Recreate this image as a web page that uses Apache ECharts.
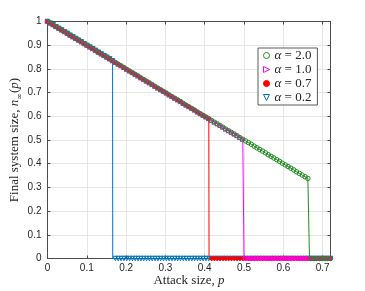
<!DOCTYPE html>
<html>
<head>
<meta charset="utf-8">
<script src="https://cdn.jsdelivr.net/npm/echarts@6/dist/echarts.min.js"></script>
<style>
html,body{margin:0;padding:0;background:#fff;}
#chart{width:365px;height:291px;}
</style>
</head>
<body>
<div id="chart"></div>
<script>
// Attack size p (sampled values)
const pValues = [
0, 0.0072, 0.0144, 0.0216, 0.0288, 0.036, 0.0432, 0.0504, 0.0576, 0.0648,
0.072, 0.0792, 0.0864, 0.0936, 0.1008, 0.108, 0.1152, 0.1224, 0.1296, 0.1368,
0.144, 0.1512, 0.1584, 0.1656, 0.1728, 0.18, 0.1872, 0.1944, 0.2016, 0.2088,
0.216, 0.2232, 0.2304, 0.2376, 0.2448, 0.252, 0.2592, 0.2664, 0.2736, 0.2808,
0.288, 0.2952, 0.3024, 0.3096, 0.3168, 0.324, 0.3312, 0.3384, 0.3456, 0.3528,
0.36, 0.3672, 0.3744, 0.3816, 0.3888, 0.396, 0.4032, 0.4104, 0.4176, 0.4248,
0.432, 0.4392, 0.4464, 0.4536, 0.4608, 0.468, 0.4752, 0.4824, 0.4896, 0.4968,
0.504, 0.5112, 0.5184, 0.5256, 0.5328, 0.54, 0.5472, 0.5544, 0.5616, 0.5688,
0.576, 0.5832, 0.5904, 0.5976, 0.6048, 0.612, 0.6192, 0.6264, 0.6336, 0.6408,
0.648, 0.6552, 0.6624, 0.6696, 0.6768, 0.684, 0.6912, 0.6984, 0.7056, 0.7128,
0.72
];
// Final system size for alpha = 2.0
const nAlpha20 = [
1, 0.993, 0.986, 0.978, 0.971, 0.964, 0.957, 0.950, 0.942, 0.935,
0.928, 0.921, 0.914, 0.906, 0.899, 0.892, 0.885, 0.878, 0.870, 0.863,
0.856, 0.849, 0.842, 0.834, 0.827, 0.820, 0.813, 0.806, 0.798, 0.791,
0.784, 0.777, 0.770, 0.762, 0.755, 0.748, 0.741, 0.734, 0.726, 0.719,
0.712, 0.705, 0.698, 0.690, 0.683, 0.676, 0.669, 0.662, 0.654, 0.647,
0.640, 0.633, 0.626, 0.618, 0.611, 0.604, 0.597, 0.590, 0.582, 0.575,
0.568, 0.561, 0.554, 0.546, 0.539, 0.532, 0.525, 0.518, 0.510, 0.503,
0.496, 0.489, 0.482, 0.474, 0.467, 0.460, 0.453, 0.446, 0.438, 0.431,
0.424, 0.417, 0.410, 0.402, 0.395, 0.388, 0.381, 0.374, 0.366, 0.359,
0.352, 0.345, 0.338, 0, 0, 0, 0, 0, 0, 0,
0
];
// alpha = 1.0
const nAlpha10 = [
1, 0.993, 0.986, 0.978, 0.971, 0.964, 0.957, 0.950, 0.942, 0.935,
0.928, 0.921, 0.914, 0.906, 0.899, 0.892, 0.885, 0.878, 0.870, 0.863,
0.856, 0.849, 0.842, 0.834, 0.827, 0.820, 0.813, 0.806, 0.798, 0.791,
0.784, 0.777, 0.770, 0.762, 0.755, 0.748, 0.741, 0.734, 0.726, 0.719,
0.712, 0.705, 0.698, 0.690, 0.683, 0.676, 0.669, 0.662, 0.654, 0.647,
0.640, 0.633, 0.626, 0.618, 0.611, 0.604, 0.597, 0.590, 0.582, 0.575,
0.568, 0.561, 0.554, 0.546, 0.539, 0.532, 0.525, 0.518, 0.510, 0.503,
0, 0, 0, 0, 0, 0, 0, 0, 0, 0,
0, 0, 0, 0, 0, 0, 0, 0, 0, 0,
0, 0, 0, 0, 0, 0, 0, 0, 0, 0,
0
];
// alpha = 0.7
const nAlpha07 = [
1, 0.993, 0.986, 0.978, 0.971, 0.964, 0.957, 0.950, 0.942, 0.935,
0.928, 0.921, 0.914, 0.906, 0.899, 0.892, 0.885, 0.878, 0.870, 0.863,
0.856, 0.849, 0.842, 0.834, 0.827, 0.820, 0.813, 0.806, 0.798, 0.791,
0.784, 0.777, 0.770, 0.762, 0.755, 0.748, 0.741, 0.734, 0.726, 0.719,
0.712, 0.705, 0.698, 0.690, 0.683, 0.676, 0.669, 0.662, 0.654, 0.647,
0.640, 0.633, 0.626, 0.618, 0.611, 0.604, 0.597, 0.590, 0, 0,
0, 0, 0, 0, 0, 0, 0, 0, 0, 0,
0, 0, 0, 0, 0, 0, 0, 0, 0, 0,
0, 0, 0, 0, 0, 0, 0, 0, 0, 0,
0, 0, 0, 0, 0, 0, 0, 0, 0, 0,
0
];
// alpha = 0.2
const nAlpha02 = [
1, 0.993, 0.986, 0.978, 0.971, 0.964, 0.957, 0.950, 0.942, 0.935,
0.928, 0.921, 0.914, 0.906, 0.899, 0.892, 0.885, 0.878, 0.870, 0.863,
0.856, 0.849, 0.842, 0.834, 0, 0, 0, 0, 0, 0,
0, 0, 0, 0, 0, 0, 0, 0, 0, 0,
0, 0, 0, 0, 0, 0, 0, 0, 0, 0,
0, 0, 0, 0, 0, 0, 0, 0, 0, 0,
0, 0, 0, 0, 0, 0, 0, 0, 0, 0,
0, 0, 0, 0, 0, 0, 0, 0, 0, 0,
0, 0, 0, 0, 0, 0, 0, 0, 0, 0,
0, 0, 0, 0, 0, 0, 0, 0, 0, 0,
0
];
// Collapse points (vertical drop): p_c and system size just before collapse
// order: alpha = 2.0, 1.0, 0.7, 0.2
const collapseP = [0.6665, 0.500, 0.411, 0.166];
const collapseN = [0.3335, 0.500, 0.589, 0.834];

const seriesNames = ['α = 2.0', 'α = 1.0', 'α = 0.7', 'α = 0.2'];
const xTicks = [0, 0.1, 0.2, 0.3, 0.4, 0.5, 0.6, 0.7];
const yTicks = [0, 0.1, 0.2, 0.3, 0.4, 0.5, 0.6, 0.7, 0.8, 0.9, 1];

const buildData = (arr, idx) => {
  const d = pValues.map((p, i) => [p, arr[i]]);
  const pc = collapseP[idx], nc = collapseN[idx];
  let k = d.findIndex(pt => pt[0] > pc);
  if (k < 0) k = d.length;
  d.splice(k, 0, {value: [pc, nc], symbol: 'none'}, {value: [pc, 0], symbol: 'none'});
  return d;
};
const fmt = v => {
  if (Math.abs(v) < 1e-9) return '0';
  if (Math.abs(v - 1) < 1e-9) return '1';
  return v.toFixed(1);
};
const xFmt = v => xTicks.some(t => Math.abs(t - v) < 1e-6) ? fmt(v) : '';

const axisColor = '#4d4d4d';
const tickFont = {fontFamily: 'Liberation Sans, Arial, sans-serif', fontSize: 10, color: '#262626'};
const serif = 'Liberation Serif, Times New Roman, serif';

const gridColor = '#e6e6e6';
const chart = echarts.init(document.getElementById('chart'), null, {renderer: 'canvas'});

const triRight = 'path://M0,0L10,5L0,10Z';
const triDown = 'path://M0,0L10,0L5,10Z';

const specs = [
  {name: seriesNames[3], idx: 3, data: nAlpha02, color: '#0072BD', symbol: triDown, size: 4.5, fill: 'rgba(0,0,0,0)'},
  {name: seriesNames[2], idx: 2, data: nAlpha07, color: '#FF0000', symbol: 'circle', size: 3.5, fill: '#FF0000'},
  {name: seriesNames[1], idx: 1, data: nAlpha10, color: '#FF00FF', symbol: triRight, size: 4.5, fill: 'rgba(0,0,0,0)'},
  {name: seriesNames[0], idx: 0, data: nAlpha20, color: '#228B22', symbol: 'circle', size: 4.5, fill: 'rgba(0,0,0,0)'}
];

const series = specs.map(s => ({
  type: 'line',
  name: s.name,
  xAxisIndex: 0,
  yAxisIndex: 0,
  data: buildData(s.data, s.idx),
  symbol: s.symbol,
  symbolSize: s.size,
  showSymbol: true,
  showAllSymbol: true,
  lineStyle: {color: s.color, width: 1},
  itemStyle: {color: s.fill, borderColor: s.color, borderWidth: 1},
  emphasis: {disabled: true},
  animation: false
}));

const legendData = [3, 2, 1, 0].map(i => ({
  name: specs[i].name,
  icon: specs[i].symbol,
  itemStyle: {color: specs[i].fill, borderColor: specs[i].color, borderWidth: 1}
}));

const baseX = {
  type: 'value', min: 0, max: 0.72, interval: 0.1,
  axisLine: {show: true, onZero: false, lineStyle: {color: axisColor, width: 1}},
  axisTick: {show: true, inside: true, length: 3, lineStyle: {color: axisColor}},
};
const baseY = {
  type: 'value', min: 0, max: 1, interval: 0.1,
  axisLine: {show: true, onZero: false, lineStyle: {color: axisColor, width: 1}},
  axisTick: {show: true, inside: true, length: 3, lineStyle: {color: axisColor}},
};

chart.setOption({
  animation: false,
  backgroundColor: '#fff',
  grid: {left: 47.5, right: 34.5, top: 21.5, bottom: 32.5, containLabel: false, outerBoundsMode: 'none'},
  legend: {
    orient: 'vertical',
    left: 258, top: 48,
    padding: [1, 6, 1, 5],
    itemGap: 1,
    itemWidth: 6, itemHeight: 6,
    backgroundColor: '#fff',
    borderColor: '#333',
    borderWidth: 0.8,
    data: legendData,
    formatter: name => '{a|α} = ' + name.slice(4),
    textStyle: {
      fontFamily: serif, fontSize: 13, color: '#262626', lineHeight: 13,
      rich: {a: {fontFamily: serif, fontSize: 13, fontStyle: 'italic', color: '#262626', lineHeight: 13}}
    },
    selectedMode: false
  },
  xAxis: [
    Object.assign({}, baseX, {
      position: 'bottom',
      axisLabel: Object.assign({}, tickFont, {margin: 5, formatter: xFmt}),
      splitLine: {show: true, lineStyle: {color: gridColor, width: 1}},
      name: '{t|Attack size, }{i|p}',
      nameLocation: 'middle',
      nameMoveOverlap: false,
      nameGap: 16,
      nameTextStyle: {
        rich: {
          t: {fontFamily: serif, fontSize: 13, color: '#262626'},
          i: {fontFamily: serif, fontSize: 13, fontStyle: 'italic', color: '#262626'}
        }
      }
    }),
    Object.assign({}, baseX, {
      position: 'top',
      axisLabel: {show: false},
      splitLine: {show: false}
    })
  ],
  yAxis: [
    Object.assign({}, baseY, {
      position: 'left',
      axisLabel: Object.assign({}, tickFont, {margin: 6, formatter: fmt}),
      splitLine: {show: true, lineStyle: {color: gridColor, width: 1}},
      name: '{t|Final system size, }{i|n}{s|∞}{t|(}{i|p}{t|)}',
      nameLocation: 'middle',
      nameMoveOverlap: false,
      nameRotate: 90,
      nameGap: 24,
      nameTextStyle: {
        rich: {
          t: {fontFamily: serif, fontSize: 13, color: '#262626', lineHeight: 18},
          i: {fontFamily: serif, fontSize: 13, fontStyle: 'italic', color: '#262626', lineHeight: 18},
          s: {fontFamily: 'DejaVu Serif, serif', fontSize: 8, color: '#262626', lineHeight: 18, verticalAlign: 'bottom'}
        }
      }
    }),
    Object.assign({}, baseY, {
      position: 'right',
      axisLabel: {show: false},
      splitLine: {show: false}
    })
  ],
  series: series
});
</script>
</body>
</html>
